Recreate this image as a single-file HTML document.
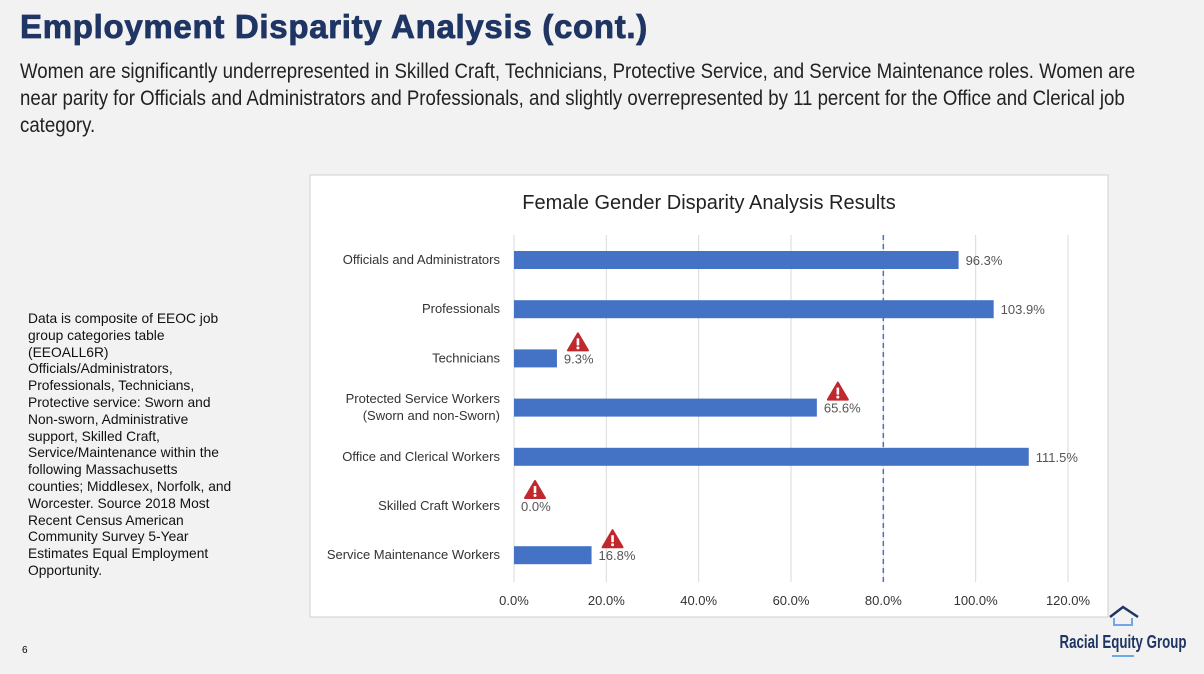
<!DOCTYPE html>
<html><head><meta charset="utf-8"><style>
body{margin:0;width:1204px;height:674px;background:#f2f2f2;font-family:"Liberation Sans",sans-serif;position:relative;overflow:hidden}
h1{position:absolute;left:20px;top:8px;margin:0;font-size:33px;font-weight:900;color:#1f3564;letter-spacing:0.7px;-webkit-text-stroke:0.8px #1f3564}
.sub{position:absolute;left:20px;top:58px;width:1270px;font-size:21px;line-height:27px;color:#222;transform:scaleX(0.887);transform-origin:0 0}
.note{position:absolute;left:28px;top:311px;width:206px;font-size:13.8px;line-height:16.8px;color:#111}
.pg{position:absolute;left:22px;top:645px;font-size:10px}
</style></head><body>
<h1>Employment Disparity Analysis (cont.)</h1>
<div class="sub">Women are significantly underrepresented in Skilled Craft, Technicians, Protective Service, and Service Maintenance roles. Women are near parity for Officials and Administrators and Professionals, and slightly overrepresented by 11 percent for the Office and Clerical job category.</div>
<div class="note">Data is composite of EEOC job group categories table (EEOALL6R) Officials/Administrators, Professionals, Technicians, Protective service: Sworn and Non-sworn, Administrative support, Skilled Craft, Service/Maintenance within the following Massachusetts counties; Middlesex, Norfolk, and Worcester. Source 2018 Most Recent Census American Community Survey 5-Year Estimates Equal Employment Opportunity.</div>
<div class="pg">6</div>
<svg width="1204" height="674" style="position:absolute;left:0;top:0" id="svg">
<rect x="310" y="175" width="798" height="442" fill="#fff" stroke="#d0d0d0"/>
<text x="709" y="209" text-anchor="middle" font-size="20" fill="#222" font-family="Liberation Sans, sans-serif">Female Gender Disparity Analysis Results</text>
<g id="g"></g>
<g>
<polyline points="1110,617 1123,607 1138,617" fill="none" stroke="#1f3564" stroke-width="2.5"/>
<polyline points="1114,618 1114,625 1132,625 1132,618" fill="none" stroke="#6fa8e8" stroke-width="2"/>
<text x="1123" y="648" text-anchor="middle" font-size="18" font-weight="bold" fill="#1f3564" font-family="Liberation Sans Narrow, Liberation Sans, sans-serif" textLength="127" lengthAdjust="spacingAndGlyphs">Racial Equity Group</text>
<line x1="1112" y1="656" x2="1134" y2="656" stroke="#6fa8e8" stroke-width="2"/>
</g>
</svg>
<script>
const categories=["Officials and Administrators","Professionals","Technicians","Protected Service Workers|(Sworn and non-Sworn)","Office and Clerical Workers","Skilled Craft Workers","Service Maintenance Workers"];
const values=[96.3,103.9,9.3,65.6,111.5,0.0,16.8];
const flagged=[false,false,true,true,false,true,true];
const ticks=[0,20,40,60,80,100,120];
const threshold=80;
const NS="http://www.w3.org/2000/svg";
const g=document.getElementById('g');
const x=v=>514+v*(1068-514)/120;
const y=i=>260+i*49.2;
function mk(t,a){const e=document.createElementNS(NS,t);for(const k in a)e.setAttribute(k,a[k]);g.appendChild(e);return e;}
const F="Liberation Sans, sans-serif";
ticks.forEach(t=>{
 const l=mk('line',{x1:x(t),x2:x(t),y1:235,y2:582,stroke:'#d9d9d9'});
 
 
 const tx=mk('text',{x:x(t),y:605,'text-anchor':'middle','font-size':13,fill:'#333','font-family':F});
 tx.textContent=t.toFixed(1)+'%';
 
 
});
values.forEach((v,i)=>{
 const b=mk('rect',{x:x(0),y:y(i)-9,width:x(v)-x(0),height:18,fill:'#4472c4'});
 
 
 const vl=mk('text',{x:x(v)+7,y:y(i)+5,'font-size':13,fill:'#555','font-family':F});
 vl.textContent=v.toFixed(1)+'%';
 
 
 const parts=categories[i].split('|');
 parts.forEach((p,j)=>{
  const c=mk('text',{x:500,y:y(i)+4+(j-(parts.length-1)/2)*17,'text-anchor':'end','font-size':13,fill:'#333','font-family':F});
  c.textContent=p;
  
  
 });
 if(flagged[i]){
  const cx=x(v)+21,cy=y(i)-16;
  const w=mk('path',{d:`M${cx} ${cy-9} L${cx+10} ${cy+8} L${cx-10} ${cy+8} Z`,fill:'#c0282d','stroke-linejoin':'round',stroke:'#c0282d','stroke-width':2});
  
  
  mk('rect',{x:cx-1.3,y:cy-4,width:2.6,height:7,fill:'#fff'});
  mk('circle',{cx:cx,cy:cy+5.5,r:1.5,fill:'#fff'});
 }
});
const th=mk('line',{x1:x(threshold),x2:x(threshold),y1:235,y2:582,stroke:'#4472c4','stroke-width':1.5,'stroke-dasharray':'5,4'});


</script>
</body></html>
